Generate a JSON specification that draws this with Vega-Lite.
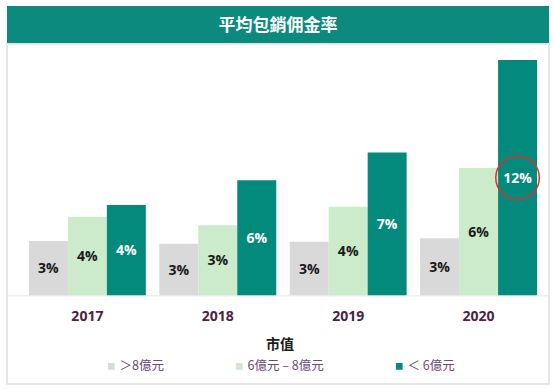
{
  "$schema": "https://vega.github.io/schema/vega-lite/v6.json",
  "padding": {"left": 6, "top": 6, "right": 6, "bottom": 6},
  "background": "white",
  "spacing": 0,
  "config": {"view": {"stroke": null}, "concat": {"spacing": 0}},
  "vconcat": [
    {
      "width": 542,
      "height": 37,
      "view": {"fill": "#0B8A7D", "stroke": null},
      "data": {"values": [{"t": "平均包銷佣金率"}]},
      "mark": {"type": "text", "font": "Noto Sans CJK TC", "fontSize": 17, "fontWeight": "bold", "color": "white", "baseline": "middle", "align": "center", "dy": 1},
      "encoding": {"text": {"field": "t"}}
    },
    {
      "width": 542,
      "height": 340,
      "view": {"stroke": "#e6e6e6", "strokeWidth": 2},
      "data": {
        "values": [
          {"year": "2017", "series": "＞8億元", "value": 2.77, "label": "3%"},
          {"year": "2017", "series": "6億元 – 8億元", "value": 4.01, "label": "4%"},
          {"year": "2017", "series": "＜ 6億元", "value": 4.61, "label": "4%"},
          {"year": "2018", "series": "＞8億元", "value": 2.63, "label": "3%"},
          {"year": "2018", "series": "6億元 – 8億元", "value": 3.57, "label": "3%"},
          {"year": "2018", "series": "＜ 6億元", "value": 5.87, "label": "6%"},
          {"year": "2019", "series": "＞8億元", "value": 2.73, "label": "3%"},
          {"year": "2019", "series": "6億元 – 8億元", "value": 4.52, "label": "4%"},
          {"year": "2019", "series": "＜ 6億元", "value": 7.28, "label": "7%"},
          {"year": "2020", "series": "＞8億元", "value": 2.91, "label": "3%"},
          {"year": "2020", "series": "6億元 – 8億元", "value": 6.5, "label": "6%"},
          {"year": "2020", "series": "＜ 6億元", "value": 12.0, "label": "12%"}
        ]
      },
      "encoding": {
        "x": {
          "field": "year", "type": "nominal", "title": null,
          "scale": {"paddingInner": 0.1035, "paddingOuter": 0.13, "align": 0.647},
          "axis": {"orient": "bottom", "offset": -88.7, "ticks": false, "labelPadding": 14, "labelAngle": 0,
                   "domainColor": "#e6e8ef", "domainWidth": 1,
                   "labelFont": "Open Sans", "labelFontWeight": "bold", "labelFontSize": 14, "labelColor": "#4a2346"}
        },
        "xOffset": {"field": "series", "type": "nominal",
                    "scale": {"domain": ["＞8億元", "6億元 – 8億元", "＜ 6億元"], "paddingInner": 0, "paddingOuter": 0}}
      },
      "layer": [
        {
          "mark": {"type": "bar"},
          "encoding": {
            "y": {"field": "value", "type": "quantitative", "scale": {"domain": [-4.526, 12.82], "nice": false, "zero": false}, "axis": null},
            "color": {
              "field": "series", "type": "nominal",
              "scale": {"domain": ["＞8億元", "6億元 – 8億元", "＜ 6億元"], "range": ["#D9D9D9", "#CBEBCB", "#038A7C"]},
              "legend": {
                "orient": "none", "legendX": 98, "legendY": 332, "direction": "horizontal",
                "title": "市值", "titleAnchor": "middle", "titleOrient": "top",
                "titleFont": "Noto Sans CJK TC", "titleFontSize": 14, "titleFontWeight": "bold", "titleColor": "#1a1a1a", "titlePadding": 8,
                "labelFont": "Noto Sans CJK TC", "labelFontSize": 12.5, "labelColor": "#6a4a78",
                "symbolType": "square", "symbolSize": 45, "symbolStrokeWidth": 0,
                "columnPadding": 69, "labelOffset": 2, "padding": 0
              }
            }
          }
        },
        {
          "mark": {"type": "text", "font": "Open Sans", "fontWeight": "bold", "fontSize": 14, "baseline": "middle", "align": "center", "dy": 1},
          "encoding": {
            "y": {"field": "value", "type": "quantitative", "scale": {"domain": [-9.052, 25.64], "nice": false, "zero": false}, "axis": null},
            "text": {"field": "label"},
            "color": {"condition": {"test": "datum.series === '＜ 6億元'", "value": "white"}, "value": "#1a1a1a"}
          }
        },
        {
          "transform": [{"filter": "datum.label === '12%'"}],
          "mark": {"type": "point", "shape": "circle", "size": 1900, "filled": false, "stroke": "#D9302C", "strokeWidth": 1.5, "opacity": 1, "dy": 1},
          "encoding": {
            "y": {"field": "value", "type": "quantitative", "scale": {"domain": [-9.052, 25.64], "nice": false, "zero": false}, "axis": null}
          }
        }
      ],
      "resolve": {"scale": {"y": "independent"}}
    }
  ]
}
